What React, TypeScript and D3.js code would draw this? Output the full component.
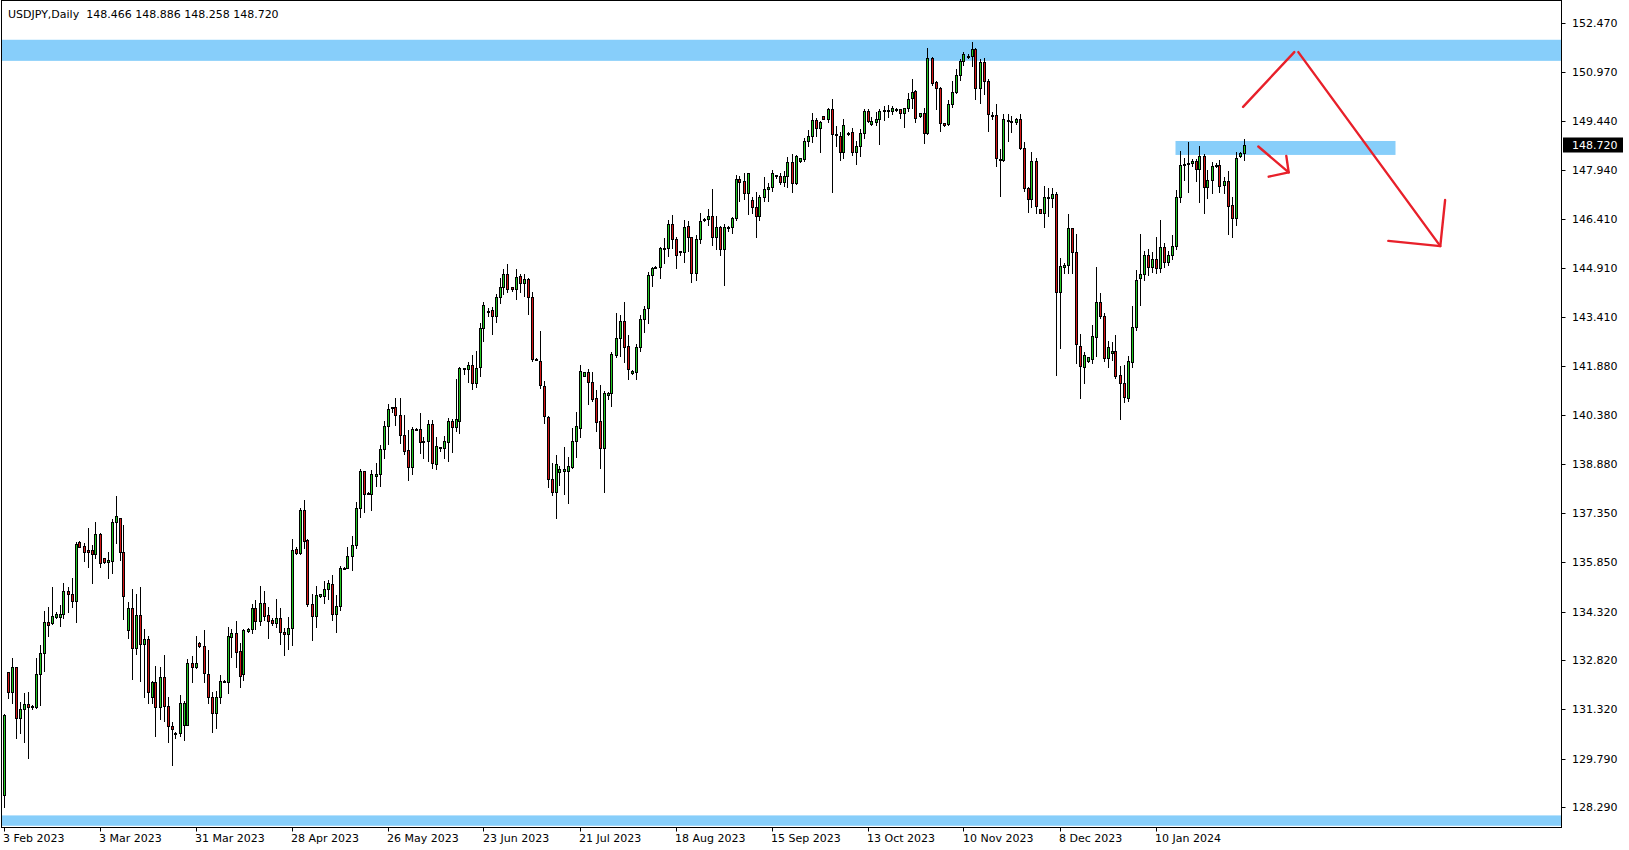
import React from "react";
import * as d3 from "d3";

// ---- Data (USDJPY daily) ----
const opens = [128.67,132.45,131.85,132.60,131.05,131.31,131.46,131.39,131.39,132.39,133.06,133.99,133.96,134.16,134.16,134.24,134.96,134.88,134.66,136.46,136.34,136.22,136.22,136.09,136.71,135.96,135.86,135.89,137.07,137.20,136.15,133.77,134.42,133.19,134.21,133.31,133.47,131.68,132.14,131.39,132.31,131.42,130.80,130.59,130.57,130.84,130.84,132.73,132.62,133.34,133.27,132.39,131.70,131.20,131.68,132.19,132.14,133.54,133.65,133.10,132.40,133.73,133.80,134.42,134.04,134.60,134.23,134.06,133.98,134.11,133.70,133.62,133.83,136.24,136.14,137.45,136.52,134.57,134.19,134.81,134.81,135.03,135.16,134.24,134.49,135.68,135.67,136.04,136.37,137.53,138.66,137.99,137.96,138.51,138.55,139.35,140.04,140.59,140.62,140.38,139.77,139.29,138.79,139.95,139.94,139.54,139.59,140.10,138.86,139.37,139.37,139.56,140.20,140.02,140.21,141.81,141.79,141.93,141.36,141.85,143.06,143.57,143.62,143.45,144.01,144.34,144.72,144.32,144.26,144.67,144.45,144.57,144.01,142.11,142.06,141.29,140.32,138.40,138.02,138.62,138.67,138.67,138.79,139.58,139.97,141.60,141.70,141.39,140.90,140.20,139.36,141.00,141.05,142.24,142.75,143.28,142.51,141.67,141.72,142.49,143.34,143.67,144.70,144.94,144.94,145.52,145.52,146.27,145.81,145.42,145.40,146.21,145.86,144.77,145.80,146.40,146.42,146.52,145.88,146.17,145.50,146.18,146.17,146.45,147.65,147.61,147.24,147.01,146.79,146.53,147.09,147.34,147.40,147.77,147.75,147.58,147.75,148.17,147.53,148.22,148.28,148.83,148.99,149.48,149.24,149.60,149.50,149.82,149.04,148.99,148.48,149.07,149.10,148.50,148.66,149.07,149.76,149.35,149.43,149.50,149.78,149.78,149.76,149.82,149.81,149.68,149.84,150.15,150.37,149.61,149.68,149.09,151.38,150.64,150.46,149.38,149.35,149.96,150.33,150.87,151.30,151.45,151.45,151.66,150.46,151.26,150.68,149.63,149.63,148.26,148.25,149.49,149.45,149.40,149.50,148.61,147.39,147.04,148.20,146.73,146.62,147.09,147.07,147.20,144.16,144.94,145.00,146.14,145.42,142.51,141.86,142.06,142.11,142.80,143.86,143.44,142.15,142.29,142.36,141.62,141.36,140.92,142.03,143.11,144.60,144.73,145.30,144.95,145.20,144.90,145.55,145.10,145.30,145.60,147.09,148.12,148.13,148.15,148.21,147.96,148.37,147.42,147.63,148.06,148.09,147.47,147.60,146.86,146.45,148.37,148.466];
const highs = [131.18,132.47,132.88,132.62,131.54,131.80,131.85,131.44,132.88,133.29,134.34,134.45,135.07,134.31,134.52,135.19,135.07,135.35,136.48,136.50,136.45,136.89,136.37,137.07,136.75,135.96,136.15,137.18,137.88,137.20,137.00,134.63,135.02,134.88,135.09,133.80,133.58,132.19,132.64,132.60,132.98,131.68,130.91,130.60,131.75,131.57,132.85,132.95,133.58,133.39,133.75,133.14,131.85,131.88,132.37,132.21,133.86,133.78,134.03,133.37,133.80,133.82,134.55,134.68,135.11,134.95,134.45,134.11,134.71,134.42,133.83,134.16,136.56,136.30,137.52,137.76,136.56,134.86,135.11,134.86,135.26,135.31,135.45,134.83,135.72,135.70,136.32,136.66,137.71,138.72,138.66,138.02,138.68,138.91,139.46,140.20,140.72,140.63,140.92,140.92,140.38,139.92,140.02,139.97,140.43,139.69,140.23,140.23,139.69,139.41,139.73,140.30,140.26,141.49,141.86,141.83,142.01,142.24,142.36,143.21,143.88,143.68,143.71,144.11,144.62,144.89,145.04,144.34,144.89,144.73,144.72,144.62,144.17,142.13,142.98,141.44,140.34,138.90,139.15,138.82,139.39,139.10,139.97,140.49,141.93,141.70,141.80,141.70,141.16,141.31,141.13,141.10,142.34,143.52,143.47,143.86,142.85,141.77,142.57,143.47,143.75,144.80,144.96,144.98,145.57,145.83,146.40,146.55,145.86,145.45,146.40,146.37,145.86,145.93,146.62,146.47,146.73,147.35,146.52,146.21,146.27,146.21,146.50,147.78,147.75,147.83,147.83,147.09,147.27,147.17,147.73,147.53,147.94,147.78,147.83,147.91,148.35,148.42,148.40,148.32,148.91,149.17,149.68,149.53,149.45,149.60,149.86,150.13,149.29,149.12,149.51,149.12,149.22,148.83,149.20,149.82,149.82,149.58,149.72,149.82,149.92,149.94,149.92,149.86,149.82,149.86,150.32,150.74,150.40,149.68,149.86,151.71,151.43,150.68,150.49,149.38,150.10,150.68,151.05,151.36,151.57,151.50,151.89,151.71,151.36,151.40,150.74,149.72,149.97,148.59,149.66,149.66,149.61,149.53,149.66,148.81,147.42,148.50,148.30,146.73,147.45,147.37,147.37,147.27,145.22,145.06,146.58,146.14,145.97,142.88,142.34,142.18,143.16,144.96,144.14,143.52,142.65,142.63,142.85,141.88,141.93,142.21,143.73,144.86,145.96,145.45,145.50,145.40,145.86,146.39,145.70,145.45,145.93,147.32,148.52,148.30,148.79,148.27,148.27,148.68,148.43,147.94,148.19,148.14,148.24,147.73,147.89,147.11,148.50,148.50,148.886];
const lows = [128.31,131.65,131.49,130.44,130.57,130.31,129.80,131.32,131.34,131.44,132.49,133.58,133.94,134.11,133.89,134.11,134.32,134.45,134.01,136.30,135.89,135.71,135.21,135.96,135.71,135.83,135.35,135.52,136.43,135.91,134.08,133.50,132.26,133.01,132.19,131.70,131.52,131.52,130.50,131.00,130.96,130.29,129.59,130.44,130.50,130.38,130.82,132.16,132.57,133.24,132.16,131.49,130.60,130.74,131.49,132.16,131.80,132.93,132.60,132.00,132.20,133.70,133.67,133.80,133.90,134.06,133.51,133.90,133.85,133.32,132.98,133.18,133.29,136.11,136.11,136.29,134.50,133.46,133.85,134.78,134.59,134.70,134.06,133.70,134.37,135.64,135.66,135.60,136.27,137.25,137.40,137.95,137.47,138.20,138.20,139.07,139.48,140.48,140.09,139.53,139.18,138.38,138.56,139.92,139.22,139.07,138.97,138.76,138.72,139.27,139.05,138.96,139.25,139.89,139.82,141.64,141.41,141.18,141.26,141.57,142.65,143.44,142.88,143.26,143.83,144.11,144.19,144.22,143.95,144.16,144.04,143.50,142.05,142.08,141.23,140.13,138.15,137.92,137.22,138.23,137.95,137.66,138.74,139.08,139.72,141.60,140.71,140.83,139.90,138.74,138.02,140.88,140.67,142.18,142.21,142.03,141.49,141.64,141.48,142.37,142.95,143.23,144.37,144.92,144.62,145.08,145.27,145.54,144.91,145.30,145.11,145.45,144.49,144.55,145.68,146.37,146.24,145.63,145.50,145.32,144.39,146.07,145.98,146.40,146.99,147.03,146.57,146.62,145.88,146.40,146.99,146.99,147.30,147.68,147.51,147.45,147.42,147.27,147.50,148.19,148.22,148.66,148.81,148.97,148.50,149.50,149.41,147.27,148.69,148.23,148.32,149.02,148.40,148.12,148.37,148.93,149.41,149.33,149.33,148.73,149.48,149.58,149.65,149.74,149.53,149.27,149.76,149.86,149.43,149.58,148.78,149.05,150.56,149.81,149.15,149.30,149.33,149.89,150.30,150.71,151.18,151.40,151.15,150.12,150.01,150.27,149.15,149.50,148.07,147.12,148.22,148.84,149.12,149.35,148.57,147.29,146.63,146.81,146.62,146.62,146.19,146.52,146.81,141.62,142.44,144.75,144.75,144.77,142.00,140.90,141.36,142.03,141.98,142.20,143.37,142.05,141.86,142.08,141.52,140.25,140.78,140.80,141.85,143.01,143.78,144.55,144.70,144.80,144.75,144.80,144.95,145.00,145.20,145.50,146.95,147.63,147.27,148.06,147.61,146.96,146.62,147.06,147.22,148.02,147.25,147.22,145.96,145.86,146.24,148.35,148.258];
const closes = [131.13,131.85,132.60,131.03,131.31,131.46,131.39,131.41,132.39,133.06,133.99,133.92,134.19,134.25,134.24,134.96,134.87,134.66,136.40,136.32,136.17,136.17,136.09,136.71,135.81,135.86,135.91,137.07,137.27,136.15,134.81,134.42,133.19,134.21,133.31,133.47,131.85,132.14,131.39,132.31,131.42,130.80,130.69,130.56,131.52,131.52,132.73,132.62,132.73,133.27,132.42,131.70,131.20,131.68,132.19,132.18,133.57,133.65,133.08,132.35,133.75,133.80,134.42,134.04,134.60,134.19,134.04,133.98,134.11,133.70,133.62,133.83,136.22,136.14,137.45,136.50,134.57,134.19,134.83,134.85,135.03,135.19,134.24,134.49,135.68,135.66,136.04,136.37,137.53,138.66,137.94,137.96,138.56,138.56,139.35,140.04,140.56,140.62,140.38,139.77,139.27,138.79,139.94,139.93,139.54,139.59,140.10,138.89,139.43,139.39,139.58,140.20,140.00,140.26,141.83,141.83,141.93,141.38,141.83,143.06,143.78,143.59,143.45,144.01,144.34,144.72,144.26,144.26,144.65,144.45,144.57,144.01,142.10,142.09,141.31,140.34,138.40,138.02,138.87,138.71,138.71,138.81,139.58,140.05,141.74,141.70,141.39,140.88,140.18,139.36,141.07,141.05,142.27,142.75,143.28,142.49,141.79,141.74,142.49,143.34,143.64,144.70,144.91,144.95,145.52,145.53,146.27,145.80,145.30,145.43,146.19,145.86,144.77,145.80,146.37,146.42,146.52,145.88,146.17,145.50,146.17,146.19,146.45,147.65,147.58,147.24,147.83,146.78,146.53,147.09,147.34,147.40,147.83,147.76,147.58,147.75,148.17,147.55,148.37,148.30,148.83,148.99,149.48,149.24,149.41,149.50,149.82,149.04,149.03,148.48,149.33,149.06,148.50,148.68,149.07,149.76,149.45,149.45,149.51,149.76,149.78,149.79,149.84,149.82,149.68,149.84,150.12,150.33,149.53,149.68,149.09,151.38,150.61,150.46,149.38,149.33,149.96,150.33,150.87,151.30,151.50,151.46,151.66,150.46,151.26,150.69,149.65,149.62,148.30,148.25,149.50,149.48,149.45,149.50,148.61,147.39,147.04,148.20,146.84,146.62,147.10,147.10,147.20,144.16,144.98,145.01,146.14,145.42,142.57,141.88,142.24,142.16,142.82,143.86,143.42,142.15,142.47,142.36,141.57,141.36,140.95,142.05,143.09,144.55,144.73,145.30,144.95,145.20,144.90,145.55,145.10,145.30,145.60,147.09,148.09,148.13,148.15,148.21,147.96,148.37,147.40,147.63,148.06,148.09,147.45,147.60,146.83,146.45,148.30,148.47,148.72];

const priceTicks = [152.47,150.97,149.44,147.94,146.41,144.91,143.41,141.88,140.38,138.88,137.35,135.85,134.32,132.82,131.32,129.79,128.29];
const dateLabels = ["3 Feb 2023","3 Mar 2023","31 Mar 2023","28 Apr 2023","26 May 2023","23 Jun 2023","21 Jul 2023","18 Aug 2023","15 Sep 2023","13 Oct 2023","10 Nov 2023","8 Dec 2023","10 Jan 2024"];
const dateLabelBars = [0,24,48,72,96,120,144,168,192,216,240,264,288];

// zones: price low/high, bar index start/end (null = full width)
const zoneLow = [151.30, 148.40, 127.72];
const zoneHigh = [151.95, 148.83, 128.04];
const zoneStart = [null, 293, null];
const zoneEnd = [null, 348, null];

// red hand-drawn arrows: polylines in (bar index, price)
const arrowPaths: [number, number][][] = [
  [[309.9, 149.88], [322.7, 151.57]],
  [[323.7, 151.57], [359.2, 145.59]],
  [[346.2, 145.75], [359.2, 145.59], [360.4, 147.01]],
  [[313.7, 148.66], [321.3, 147.86]],
  [[316.3, 147.73], [321.3, 147.86], [320.7, 148.37]],
];

const header = "USDJPY,Daily  148.466 148.886 148.258 148.720";
const lastPrice = 148.72;

const W = 1629, H = 850;
const plotL = 1.5, plotT = 0.5, plotR = 1561.5, plotB = 827.5;
const FONT = "'DejaVu Sans', Tahoma, sans-serif";
const BULL = "#22c822";
const BEAR = "#d41616";

export default function App() {
  const x = d3.scaleLinear().domain([0, 310]).range([3.5, 3.5 + 4 * 310]);
  const y = d3.scaleLinear().domain([128.29, 152.47]).range([807.3, 22.9]);
  const line = d3.line<[number, number]>().x(d => x(d[0])).y(d => y(d[1]));
  const snap = (v: number) => Math.round(v) + 0.5;

  return (
    <div style={{ position: "absolute", left: 0, top: 0, width: W, height: H, background: "#fff" }}>
      <svg width={W} height={H} style={{ display: "block" }}>
        <defs>
          <clipPath id="plot">
            <rect x={plotL} y={plotT} width={plotR - plotL} height={plotB - plotT} />
          </clipPath>
        </defs>
        <rect x={0} y={0} width={W} height={H} fill="#fff" />
        <g clipPath="url(#plot)">
          {zoneLow.map((lo, k) => {
            const x0 = zoneStart[k] == null ? plotL : x(zoneStart[k] as number);
            const x1 = zoneEnd[k] == null ? plotR : x(zoneEnd[k] as number);
            return (
              <rect key={"z" + k} x={x0} y={y(zoneHigh[k])} width={x1 - x0}
                height={y(lo) - y(zoneHigh[k])} fill="#87cefa" />
            );
          })}
          {opens.map((o, i) => {
            const c = closes[i];
            const cx = Math.round(x(i)) + 0.5;
            const top = snap(y(Math.max(o, c)));
            let bot = snap(y(Math.min(o, c)));
            if (bot - top < 1) bot = top + 1;
            const bull = c >= o;
            return (
              <g key={i}>
                <line x1={cx} x2={cx} y1={snap(y(highs[i])) - 0.5} y2={snap(y(lows[i])) + 0.5}
                  stroke="#000" strokeWidth={1} />
                <rect x={cx - 1} y={top} width={2} height={bot - top}
                  fill={bull ? BULL : BEAR} stroke="#000" strokeWidth={1} />
              </g>
            );
          })}
          {arrowPaths.map((p, k) => (
            <path key={"a" + k} d={line(p) || ""} fill="none" stroke="#e8202a"
              strokeWidth={2.4} strokeLinecap="round" strokeLinejoin="round" />
          ))}
        </g>
        <rect x={plotL} y={plotT} width={plotR - plotL} height={plotB - plotT}
          fill="none" stroke="#000" strokeWidth={1} />
        {/* price axis */}
        {priceTicks.map((p, k) => (
          <g key={"p" + k}>
            <line x1={plotR} x2={plotR + 4} y1={snap(y(p))} y2={snap(y(p))} stroke="#000" />
            <text x={1572} y={y(p) + 4} fontFamily={FONT} fontSize={11} fill="#000">
              {p.toFixed(3)}
            </text>
          </g>
        ))}
        <rect x={1563} y={snap(y(lastPrice)) - 8} width={60} height={15} fill="#000" />
        <text x={1572} y={y(lastPrice) + 4} fontFamily={FONT} fontSize={11} fill="#fff">
          {lastPrice.toFixed(3)}
        </text>
        {/* time axis */}
        {dateLabels.map((d, k) => (
          <g key={"d" + k}>
            <line x1={Math.round(x(dateLabelBars[k])) + 0.5} x2={Math.round(x(dateLabelBars[k])) + 0.5}
              y1={plotB} y2={plotB + 4} stroke="#000" />
            <text x={x(dateLabelBars[k]) - 0.5} y={842} fontFamily={FONT} fontSize={11} fill="#000">{d}</text>
          </g>
        ))}
        <text x={8} y={17.5} fontFamily={FONT} fontSize={11} fill="#000" style={{ whiteSpace: "pre" }}>
          {header}
        </text>
      </svg>
    </div>
  );
}
